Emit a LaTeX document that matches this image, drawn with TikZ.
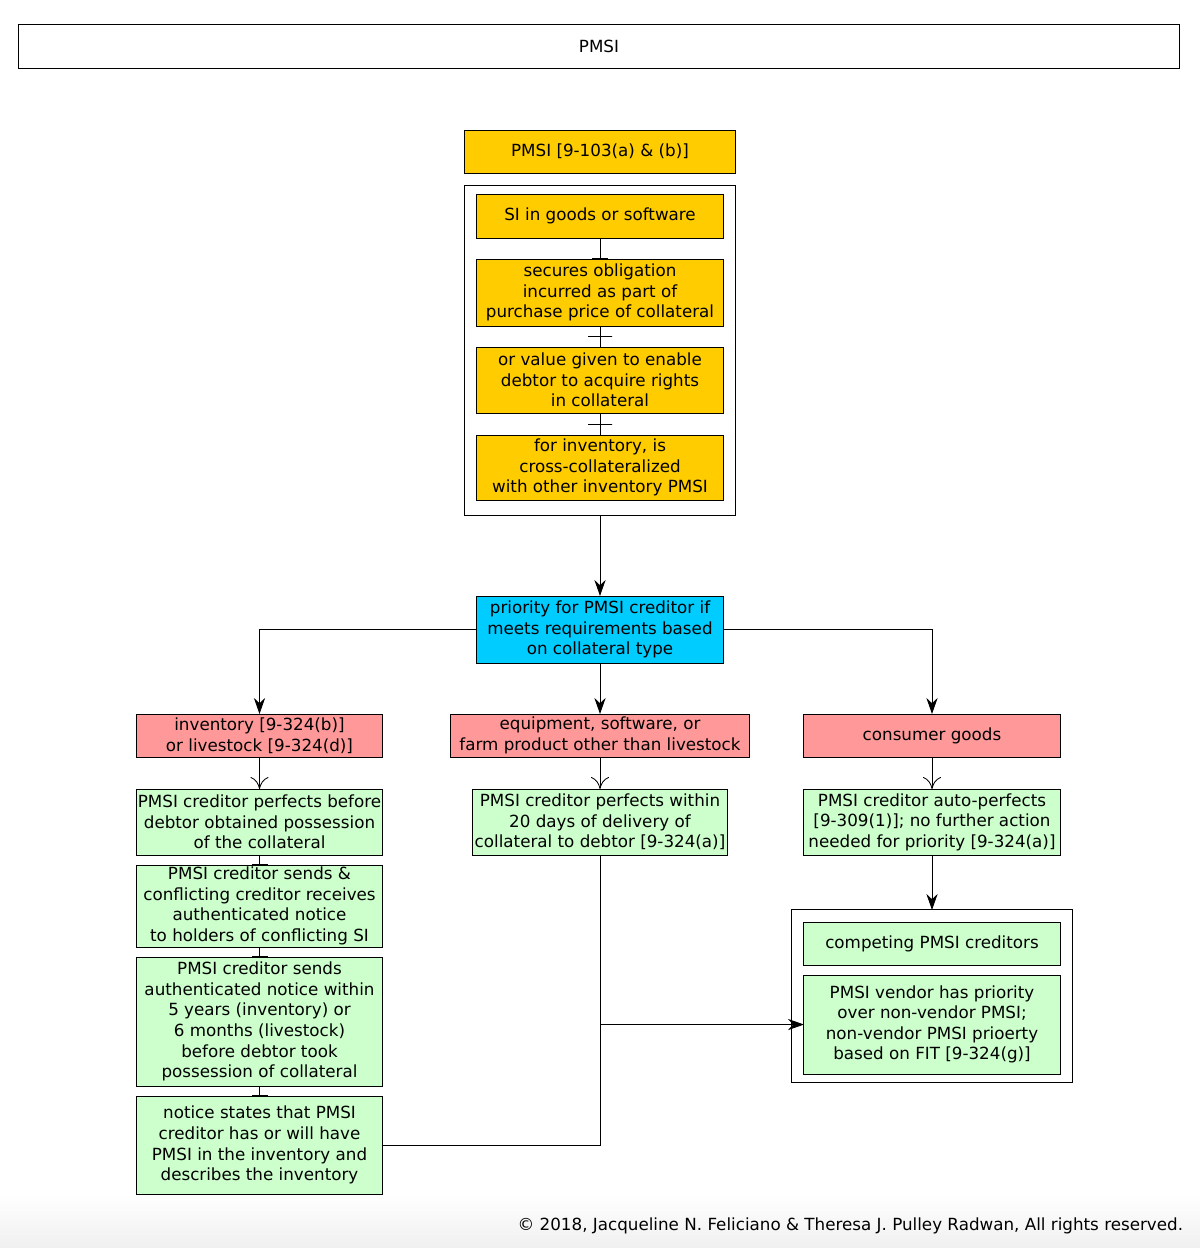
\documentclass[tikz,border=0pt]{standalone}
\usepackage{fontspec}
\setmainfont{DejaVu Sans}
\usepackage{tikz}
\usetikzlibrary{positioning, arrows.meta, calc}
\definecolor{pmsiOrange}{RGB}{255,204,0}
\definecolor{prioBlue}{RGB}{0,204,255}
\definecolor{typeRed}{RGB}{255,153,153}
\definecolor{reqGreen}{RGB}{204,255,204}
\tikzset{
    pmsibox/.style={
        rectangle,
        draw,
        line width=0.7pt,
        fill=white,
        inner sep=0pt,
        outer sep=0pt,
        align=center,
        font=\fontsize{11.9}{14.6}\selectfont
    },
    reqbox/.style={pmsibox, fill=pmsiOrange, minimum width=6.15cm},
    typebox/.style={pmsibox, fill=typeRed, minimum height=1.075cm},
    greenbox/.style={pmsibox, fill=reqGreen},
    link/.style={line width=0.6pt},
    ptr/.style={link, -{Stealth[length=0.4cm, width=0.28cm]}},
    fork/.style={link, -{Computer Modern Rightarrow[length=0.3cm, width=0.45cm]}},
    tee/.style={link, -{Bar[width=0.4cm]}},
    crossbar/.style={draw, line width=0.6pt, minimum width=0.6cm, minimum height=0pt, inner sep=0pt}
}

\begin{document}
\begin{tikzpicture}[x=0.025cm, y=-0.025cm]
    \useasboundingbox (0,0) rectangle (1200,1248);
    \shade[top color=white, bottom color=black!6] (0,1195) rectangle (1200,1248);

    % title and definition
    \node[pmsibox, minimum width=29cm, minimum height=1.075cm] (title) at (599,46.5) {PMSI};
    \node[pmsibox, fill=pmsiOrange, minimum width=6.75cm, minimum height=1.075cm] (def) at (600,151.5) {PMSI [9-103(a) \& (b)]};
    \node[pmsibox, minimum width=6.75cm, minimum height=8.225cm] (defbox) at (600,350.5) {};
    \node[reqbox, minimum height=1.1cm] (goods) at (600,216) {SI in goods or software};
    \node[reqbox, minimum height=1.675cm, below=0.525cm of goods] (oblig) {secures obligation\\incurred as part of\\purchase price of collateral};
    \node[reqbox, minimum height=1.65cm, below=0.525cm of oblig] (value) {or value given to enable\\debtor to acquire rights\\in collateral};
    \node[reqbox, minimum height=1.625cm, below=0.55cm of value] (cross) {for inventory, is\\cross-collateralized\\with other inventory PMSI};

    % priority and collateral types
    \node[pmsibox, fill=prioBlue, minimum width=6.15cm, minimum height=1.675cm] (prio) at (600,629.5) {priority for PMSI creditor if\\meets requirements based\\on collateral type};
    \node[typebox, minimum width=6.125cm] (inv) at (259.5,735.5) {inventory [9-324(b)]\\or livestock [9-324(d)]};
    \node[typebox, minimum width=7.45cm] (equip) at (600,735.5) {equipment, software, or\\farm product other than livestock};
    \node[typebox, minimum width=6.4cm] (cons) at (932,735.5) {consumer goods};

    % inventory / livestock
    \node[greenbox, minimum width=6.125cm, minimum height=1.65cm, below=0.8cm of inv] (inv1) {PMSI creditor perfects before\\debtor obtained possession\\of the collateral};
    \node[greenbox, minimum width=6.125cm, minimum height=2.05cm, below=0.25cm of inv1] (inv2) {PMSI creditor sends \&\\conflicting creditor receives\\authenticated notice\\to holders of conflicting SI};
    \node[greenbox, minimum width=6.125cm, minimum height=3.225cm, below=0.25cm of inv2] (inv3) {PMSI creditor sends\\authenticated notice within\\5 years (inventory) or\\6 months (livestock)\\before debtor took\\possession of collateral};
    \node[greenbox, minimum width=6.125cm, minimum height=2.45cm, below=0.25cm of inv3] (inv4) {notice states that PMSI\\creditor has or will have\\PMSI in the inventory and\\describes the inventory};

    % equipment and consumer goods
    \node[greenbox, minimum width=6.35cm, minimum height=1.65cm, below=0.8cm of equip] (eq1) {PMSI creditor perfects within\\20 days of delivery of\\collateral to debtor [9-324(a)]};
    \node[greenbox, minimum width=6.4cm, minimum height=1.65cm, below=0.8cm of cons] (cons1) {PMSI creditor auto-perfects\\{}[9-309(1)]; no further action\\needed for priority [9-324(a)]};
    \node[pmsibox, minimum width=7cm, minimum height=4.3cm] (compbox) at (932,996) {};
    \node[greenbox, minimum width=6.4cm, minimum height=1.075cm] (comp1) at (932,943.5) {competing PMSI creditors};
    \node[greenbox, minimum width=6.4cm, minimum height=2.475cm, below=0.25cm of comp1] (comp2) {PMSI vendor has priority\\over non-vendor PMSI;\\non-vendor PMSI prioerty\\based on FIT [9-324(g)]};

    \node[anchor=base east, font=\fontsize{11.9}{14.6}\selectfont] (copy) at (1188,1230) {\textcopyright{} 2018, Jacqueline N. Feliciano \& Theresa J. Pulley Radwan, All rights reserved.};

    % connectors
    \draw[tee] (goods) -- (oblig);
    \draw[link] (oblig) -- node[crossbar] {} (value);
    \draw[link] (value) -- node[crossbar] {} (cross);
    \draw[ptr] (defbox) -- (prio);
    \draw[ptr] (prio.west) -| (inv);
    \draw[ptr] (prio) -- (equip);
    \draw[ptr] (prio.east) -| (cons);
    \draw[fork] (inv) -- (inv1);
    \draw[fork] (equip) -- (eq1);
    \draw[fork] (cons) -- (cons1);
    \draw[tee] (inv1) -- (inv2);
    \draw[tee] (inv2) -- (inv3);
    \draw[tee] (inv3) -- (inv4);
    \draw[ptr] (eq1) |- (comp2);
    \draw[link] (inv4) -| (eq1.south |- comp2.west);
    \draw[ptr] (cons1) -- (compbox);
\end{tikzpicture}
\end{document}
